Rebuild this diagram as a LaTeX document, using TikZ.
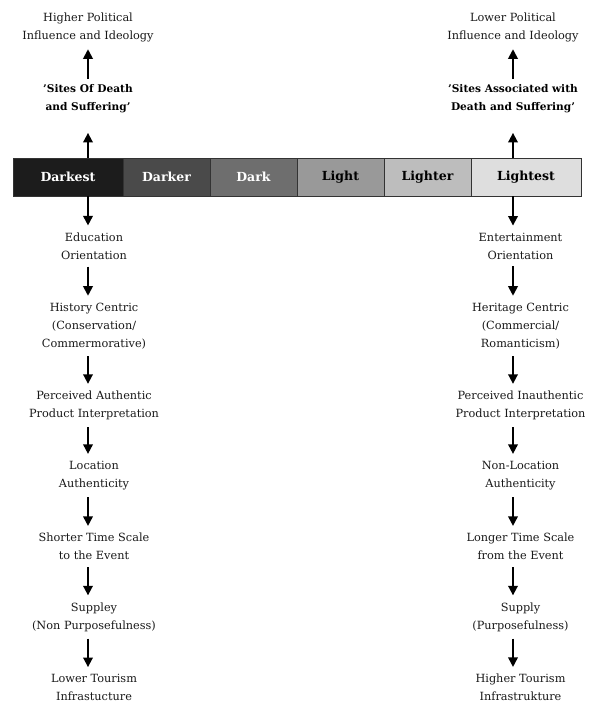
\documentclass[tikz,border=0pt]{standalone}
\usepackage{fontspec}
\setmainfont{DejaVu Serif}
\usetikzlibrary{arrows.meta}
\begin{document}
\begin{tikzpicture}[x=1pt,y=-1pt,
  txt/.style={font=\fontsize{11.3}{18}\selectfont, align=center, inner sep=0pt, text=black!90},
  btxt/.style={font=\fontsize{10.6}{18}\selectfont\bfseries, align=center, inner sep=0pt, text=black},
  arr/.style={line width=1.8pt, -{Triangle[width=9.5pt,length=9.5pt]}, shorten >=7pt, shorten <=7pt},
  cell/.style={draw=black!80, line width=0.8pt, minimum height=38pt, inner sep=0pt, font=\fontsize{12.5}{14}\selectfont\bfseries}
]
\useasboundingbox (0,0) rectangle (592,702);
% bar
\node[cell, fill=black!89, text=white, minimum width=110pt] (c1) at (68,177) {Darkest};
\node[cell, fill=black!71, text=white, minimum width=87pt] (c2) at (166.5,177) {Darker};
\node[cell, fill=black!57, text=white, minimum width=87pt] (c3) at (253.5,177) {Dark};
\node[cell, fill=black!40, text=black, minimum width=87pt] (c4) at (340.5,177) {Light};
\node[cell, fill=black!26, text=black, minimum width=87pt] (c5) at (427.5,177) {Lighter};
\node[cell, fill=black!13, text=black, minimum width=110pt] (c6) at (526,177) {Lightest};
\coordinate (lt) at (88,158);
\coordinate (lb) at (88,196);
\coordinate (rt) at (513,158);
\coordinate (rb) at (513,196);
% left column
\node[txt] (l0) at (88,27.5) {Higher Political\\Influence and Ideology};
\node[btxt] (l1) at (88,98.5) {'Sites Of Death\\and Suffering'};
\node[txt] (l2) at (94,246) {Education\\Orientation};
\node[txt] (l3) at (94,326) {History Centric\\(Conservation/\\Commermorative)};
\node[txt] (l4) at (94,405.5) {Perceived Authentic\\Product Interpretation};
\node[txt] (l5) at (94,475.5) {Location\\Authenticity};
\node[txt] (l6) at (94,546.5) {Shorter Time Scale\\to the Event};
\node[txt] (l7) at (94,617) {Suppley\\(Non Purposefulness)};
\node[txt] (l8) at (94,687.5) {Lower Tourism\\Infrastucture};
% right column
\node[txt] (r0) at (513,27.5) {Lower Political\\Influence and Ideology};
\node[btxt] (r1) at (513,98.5) {'Sites Associated with\\Death and Suffering'};
\node[txt] (r2) at (520.5,246) {Entertainment\\Orientation};
\node[txt] (r3) at (520.5,326) {Heritage Centric\\(Commercial/\\Romanticism)};
\node[txt] (r4) at (520.5,405.5) {Perceived Inauthentic\\Product Interpretation};
\node[txt] (r5) at (520.5,475.5) {Non-Location\\Authenticity};
\node[txt] (r6) at (520.5,546.5) {Longer Time Scale\\from the Event};
\node[txt] (r7) at (520.5,617) {Supply\\(Purposefulness)};
\node[txt] (r8) at (520.5,687.5) {Higher Tourism\\Infrastrukture};
% arrows
\draw[arr, shorten <=5pt] (l1.north -| lt) -- (l0.south -| lt);
\draw[arr, shorten <=0pt, shorten >=0pt] (lt) -- ([yshift=-20pt]l1.south -| lt);
\draw[arr, shorten <=0pt] (lb) -- (l2.north -| lb);
\draw[arr, shorten <=5pt] (r1.north -| rt) -- (r0.south -| rt);
\draw[arr, shorten <=0pt, shorten >=0pt] (rt) -- ([yshift=-20pt]r1.south -| rt);
\draw[arr, shorten <=0pt] (rb) -- (r2.north -| rb);
\foreach \a/\b in {l2/l3,l3/l4,l4/l5,l5/l6,l6/l7,l7/l8}{
  \draw[arr] (\a.south -| lt) -- (\b.north -| lt);
}
\foreach \a/\b in {r2/r3,r3/r4,r4/r5,r5/r6,r6/r7,r7/r8}{
  \draw[arr] (\a.south -| rt) -- (\b.north -| rt);
}
\end{tikzpicture}
\end{document}
